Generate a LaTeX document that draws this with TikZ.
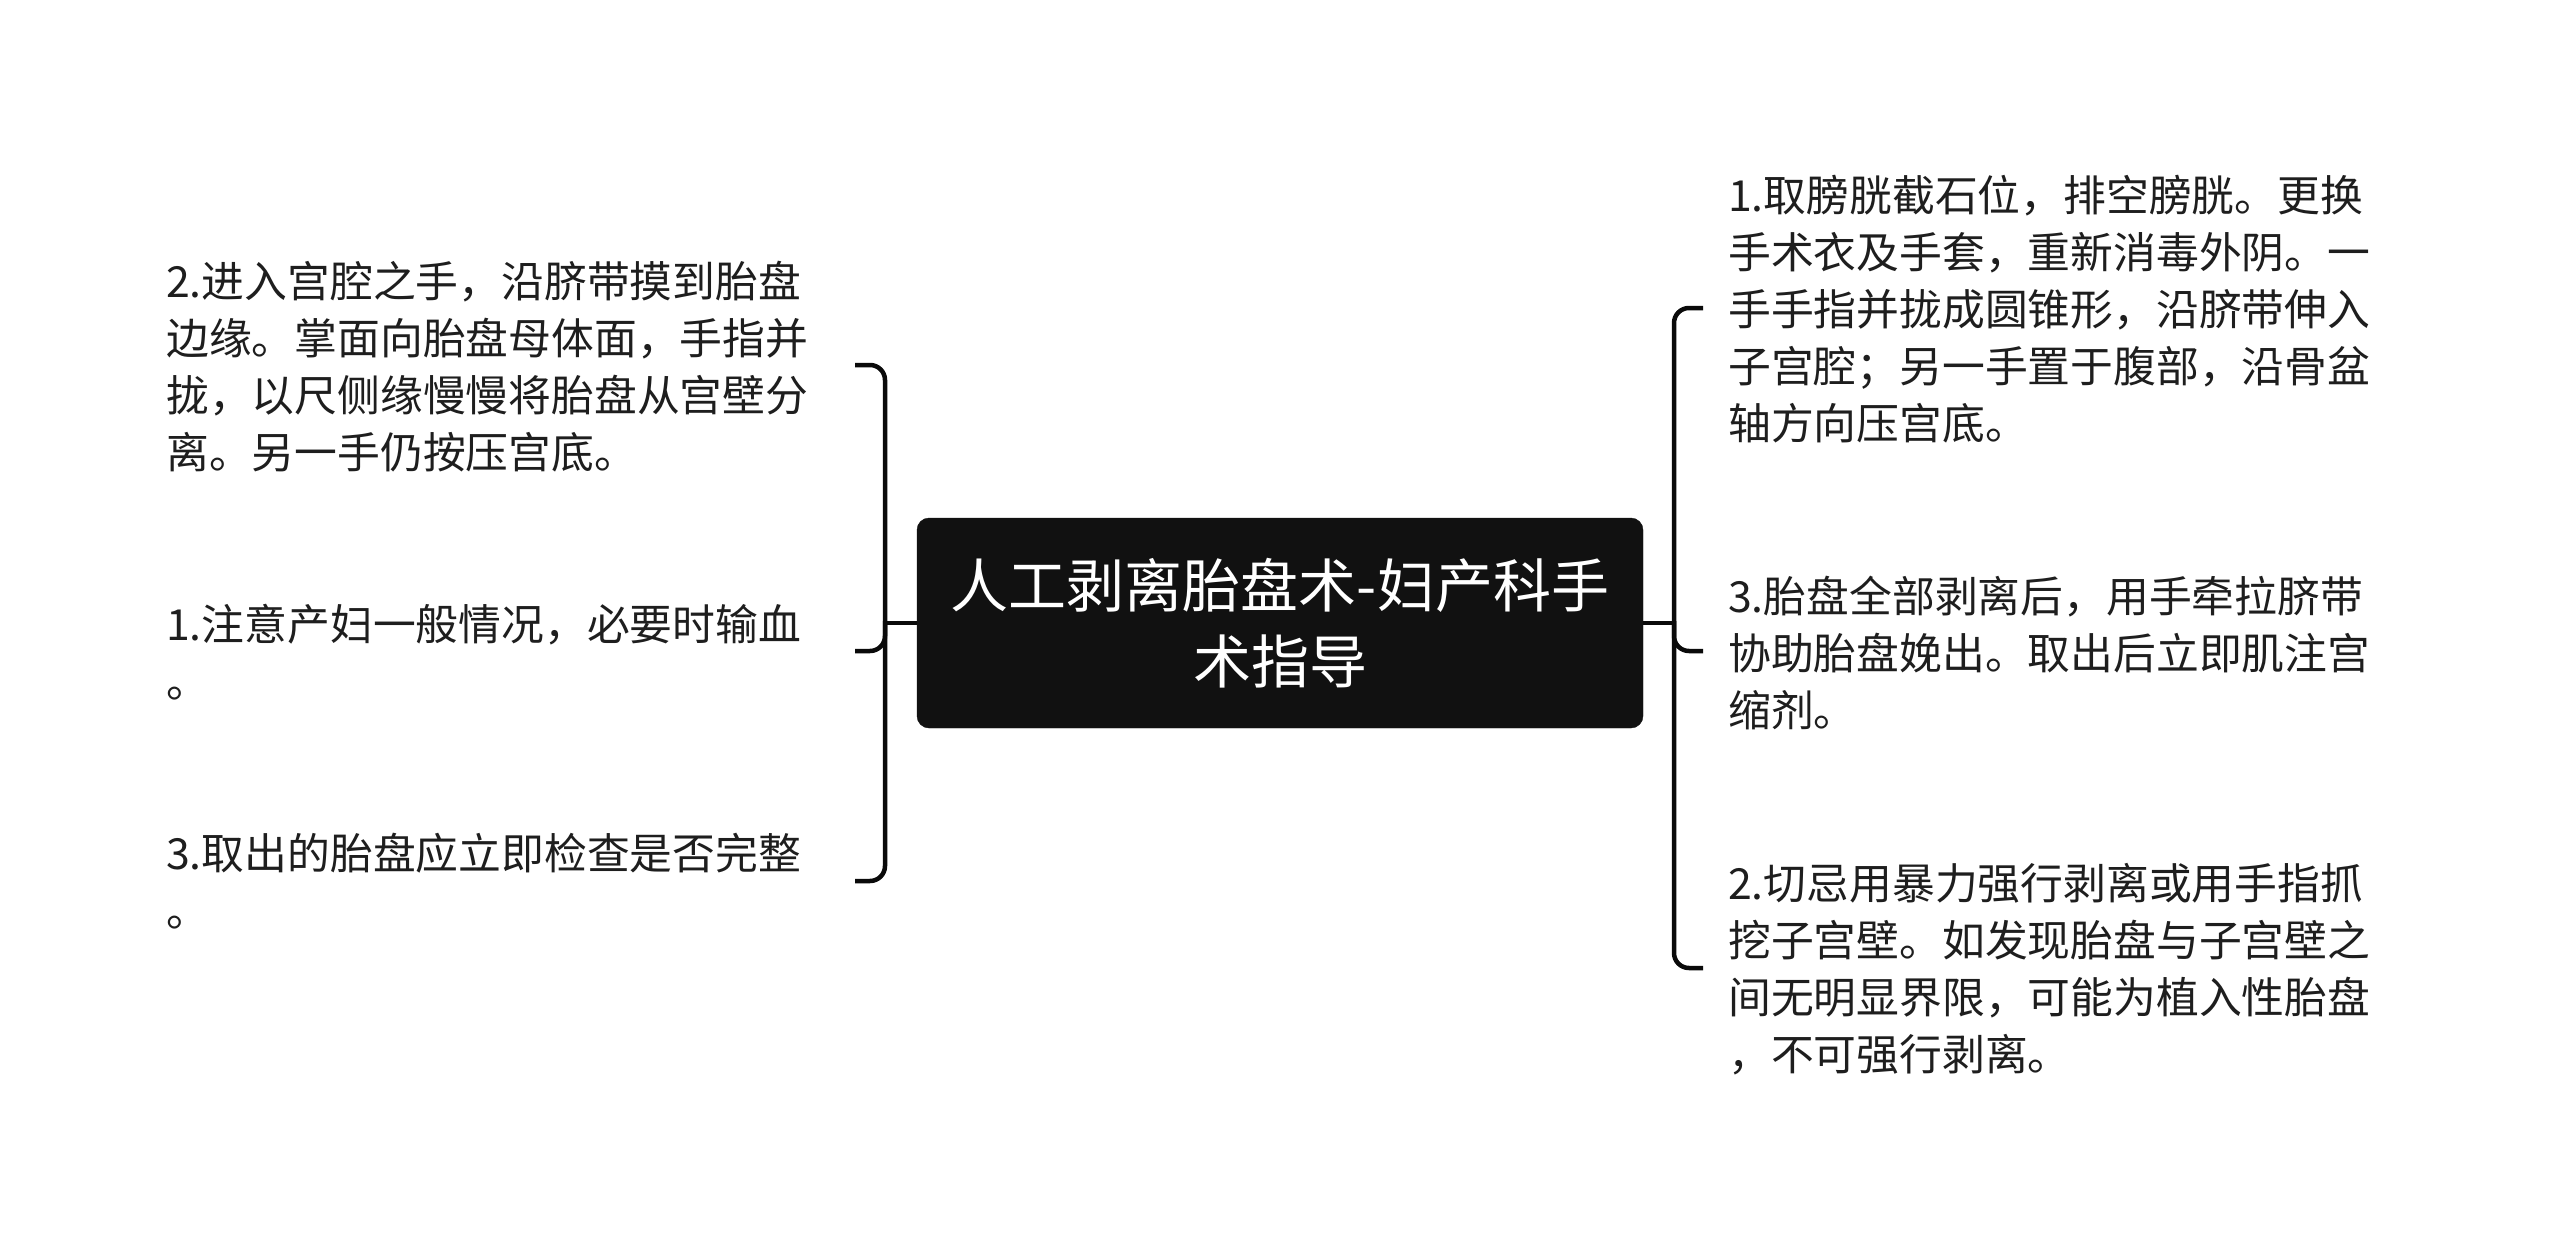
\documentclass[tikz,border=0pt]{standalone}
\usepackage{fontspec}
\setmainfont{Noto Sans CJK SC}
\definecolor{rootfill}{HTML}{111111}
\definecolor{txt}{HTML}{1E1E1E}
\definecolor{linec}{HTML}{0A0A0A}
\tikzset{
  rootbox/.style={draw=rootfill, fill=rootfill, rounded corners=12pt, text=white,
    minimum width=726pt, minimum height=210pt, align=center, inner sep=0pt,
    font=\fontsize{58}{76}\selectfont},
  leaf/.style={anchor=west, align=left, inner sep=0pt, text=txt,
    font=\fontsize{42.8}{57}\selectfont},
  conn/.style={draw=linec, line width=4.5pt},
}
\begin{document}
\begin{tikzpicture}[x=1pt,y=-1pt]
\useasboundingbox[fill=white] (0,0) rectangle (2560,1247);

\node[rootbox] (root) at (1280,623) {人工剥离胎盘术-妇产科手\\术指导};

% left side
\node[leaf] (L1) at (166,372) {\strut 2.进入宫腔之手，沿脐带摸到胎盘\\边缘。掌面向胎盘母体面，手指并\\拢，以尺侧缘慢慢将胎盘从宫壁分\\离。另一手仍按压宫底。\strut};
\node[leaf] (L2) at (166,658) {\strut 1.注意产妇一般情况，必要时输血\\。\strut};
\node[leaf] (L3) at (166,887) {\strut 3.取出的胎盘应立即检查是否完整\\。\strut};

% right side
\node[leaf] (R1) at (1728,314) {\strut 1.取膀胱截石位，排空膀胱。更换\\手术衣及手套，重新消毒外阴。一\\手手指并拢成圆锥形，沿脐带伸入\\子宫腔；另一手置于腹部，沿骨盆\\轴方向压宫底。\strut};
\node[leaf] (R2) at (1728,658) {\strut 3.胎盘全部剥离后，用手牵拉脐带\\协助胎盘娩出。取出后立即肌注宫\\缩剂。\strut};
\node[leaf] (R3) at (1728,974) {\strut 2.切忌用暴力强行剥离或用手指抓\\挖子宫壁。如发现胎盘与子宫壁之\\间无明显界限，可能为植入性胎盘\\，不可强行剥离。\strut};

% connector guide coordinates
\coordinate (lx) at (855,0);
\coordinate (lbx) at (885,0);
\coordinate (rx) at (1703,0);
\coordinate (rbx) at (1674,0);
\coordinate (l1e) at (855,365);
\coordinate (l2e) at (855,651);
\coordinate (l3e) at (855,881);
\coordinate (r1e) at (1703,308);
\coordinate (r2e) at (1703,651);
\coordinate (r3e) at (1703,968);

% left connectors
\draw[conn] (root.west) -- (root.west -| lbx);
\draw[conn, rounded corners=15pt] (l1e) -- (l1e -| lbx) -- (l3e -| lbx) -- (l3e);
\draw[conn, rounded corners=15pt] (l2e) -- (l2e -| lbx) -- ++(0,-30);

% right connectors
\draw[conn] (root.east) -- (root.east -| rbx);
\draw[conn, rounded corners=15pt] (r1e) -- (r1e -| rbx) -- (r3e -| rbx) -- (r3e);
\draw[conn, rounded corners=15pt] (r2e) -- (r2e -| rbx) -- ++(0,-30);
\end{tikzpicture}
\end{document}
